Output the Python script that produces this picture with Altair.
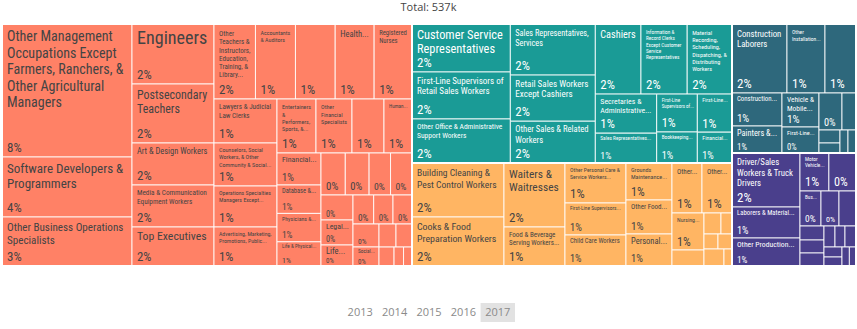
import altair as alt
import pandas as pd

TITLE = "Total: 537k"
YEARS = ["2013", "2014", "2015", "2016", "2017"]
ACTIVE_YEAR = "2017"

GROUPS = [
    "Management, Business, Science, & Arts",
    "Sales & Office",
    "Service",
    "Natural Resources, Construction, & Maintenance",
    "Production, Transportation, & Material Moving",
]
GROUP_COLORS = ["#FF8166", "#1A9B96", "#FFB563", "#2E687C", "#4A3F8C"]
TEXT_COLORS = ["#444444", "#FFFFFF", "#444444", "#FFFFFF", "#FFFFFF"]

MGMT_LABELS = [
    "Other Management\nOccupations Except\nFarmers, Ranchers, &\nOther Agricultural\nManagers",
    "Software Developers &\nProgrammers",
    "Other Business Operations\nSpecialists",
    "Engineers",
    "Postsecondary\nTeachers",
    "Art & Design Workers",
    "Media & Communication\nEquipment Workers",
    "Top Executives",
    "Other\nTeachers &\nInstructors,\nEducation,\nTraining, &\nLibrary...",
    "Accountants\n& Auditors",
    "",
    "Health...",
    "Registered\nNurses",
    "Lawyers & Judicial\nLaw Clerks",
    "Counselors, Social\nWorkers, & Other\nCommunity & Social...",
    "Operations Specialties\nManagers Except...",
    "Advertising, Marketing,\nPromotions, Public...",
    "Entertainers\n&\nPerformers,\nSports, &...",
    "Other\nFinancial\nSpecialists",
    "",
    "Human...",
    "Financial...",
    "Database &...",
    "Physicians &...",
    "Life & Physical...",
    "", "", "", "",
    "", "Legal...", "Life...",
    "", "", "",
    "", "Social...",
    "", "",
    "", "", "",
]
MGMT_VALUES = [
    17290, 7800, 6370,
    4920, 4838, 3444, 3444, 3198,
    3110, 3000, 2980, 2920, 2840,
    2772, 2709, 2583, 2457,
    2106, 1944, 1728, 1512,
    1408, 1250, 1250, 1064,
    1020, 1000, 901, 901,
    800, 800, 672,
    600, 560, 551,
    598, 494,
    391, 368,
    285, 180, 160,
]

SALES_LABELS = [
    "Customer Service\nRepresentatives",
    "First-Line Supervisors of\nRetail Sales Workers",
    "Other Office & Administrative\nSupport Workers",
    "Sales Representatives,\nServices",
    "Retail Sales Workers\nExcept Cashiers",
    "Other Sales & Related\nWorkers",
    "Cashiers",
    "Information &\nRecord Clerks\nExcept Customer\nService\nRepresentatives",
    "Material\nRecording,\nScheduling,\nDispatching, &\nDistributing\nWorkers",
    "Secretaries &\nAdministrative...",
    "Sales Representatives...",
    "First-Line\nSupervisors of...",
    "Bookkeeping...",
    "First-Line...",
    "Financial...",
]
SALES_VALUES = [4720, 4620, 4330, 4340, 3920, 3551, 3200, 3240, 3140,
                2400, 1830, 1540, 1260, 1320, 1069]

SERVICE_LABELS = [
    "Building Cleaning &\nPest Control Workers",
    "Cooks & Food\nPreparation Workers",
    "Waiters &\nWaitresses",
    "Food & Beverage\nServing Workers...",
    "Other Personal Care &\nService Workers...",
    "First-Line Supervisors...",
    "Child Care Workers",
    "Grounds\nMaintenance...",
    "Other Food...",
    "Personal...",
    "Other...",
    "Other...",
    "Nursing...",
    "", "", "", "", "", "", "",
]
SERVICE_VALUES = [4968, 4508, 3904, 2379, 2440, 1952, 1891, 1702, 1564, 1472,
                  1500, 1500, 1184, 512, 357, 231, 210, 210, 340, 136]

CONSTR_LABELS = [
    "Construction\nLaborers",
    "Other\nInstallation...",
    "",
    "Construction...",
    "Painters &...",
    "Vehicle &\nMobile...",
    "First-Line...",
    "", "", "", "", "", "",
]
CONSTR_VALUES = [3795, 2622, 2139, 1650, 1350, 1258, 962, 851, 518, 273, 210, 184, 184]

PROD_LABELS = [
    "Driver/Sales\nWorkers & Truck\nDrivers",
    "Laborers & Material...",
    "Other Production...",
    "Motor\nVehicle...",
    "",
    "Bus...",
    "", "", "", "", "", "", "", "", "", "", "", "",
]
PROD_VALUES = [3672, 2108, 1904, 1098, 1030, 735, 630, 595, 336, 312, 312,
               231, 210, 231, 180, 162, 140, 126]

ALL_LABELS = [MGMT_LABELS, SALES_LABELS, SERVICE_LABELS, CONSTR_LABELS, PROD_LABELS]
ALL_VALUES = [MGMT_VALUES, SALES_VALUES, SERVICE_VALUES, CONSTR_VALUES, PROD_VALUES]

W_CHART, H_CHART = 857, 329
BOX = (2, 24, 856, 266)  # treemap area in the page
PHI = (1 + 5 ** 0.5) / 2
FONT = "Roboto Condensed"
LINE = 1.18  # line height as a multiple of font size

# Roboto advance widths (per 1000 em); the condensed cut is ~0.9x
CW = {' ': 248, 'a': 544, 'b': 560, 'c': 523, 'd': 562, 'e': 529, 'f': 347, 'g': 560,
      'h': 551, 'i': 243, 'j': 239, 'k': 507, 'l': 243, 'm': 876, 'n': 552, 'o': 570,
      'p': 560, 'q': 567, 'r': 338, 's': 516, 't': 327, 'u': 551, 'v': 484, 'w': 751,
      'x': 496, 'y': 473, 'z': 496, 'A': 652, 'B': 623, 'C': 651, 'D': 656, 'E': 568,
      'F': 553, 'G': 681, 'H': 713, 'I': 272, 'J': 552, 'K': 627, 'L': 538, 'M': 873,
      'N': 713, 'O': 688, 'P': 631, 'Q': 688, 'R': 616, 'S': 593, 'T': 597, 'U': 649,
      'V': 636, 'W': 887, 'X': 627, 'Y': 601, 'Z': 599, '&': 621, ',': 196, '.': 263,
      '-': 276, '/': 412, '%': 733}


def em(s):
    return sum(CW.get(c, 562) for c in s) / 1000 * 0.92


def squarify(values, x0, y0, x1, y1, ratio=PHI):
    """Port of d3.treemapSquarify."""
    n = len(values)
    out = [None] * n
    value = float(sum(values))
    i0 = i1 = 0
    while i0 < n:
        dx, dy = x1 - x0, y1 - y0
        sum_v = values[i1]
        i1 += 1
        while not sum_v and i1 < n:
            sum_v = values[i1]
            i1 += 1
        min_v = max_v = sum_v
        alpha = max(dy / dx, dx / dy) / (value * ratio)
        beta = sum_v * sum_v * alpha
        min_ratio = max(max_v / beta, beta / min_v)
        while i1 < n:
            v = values[i1]
            sum_v += v
            min_v = min(min_v, v)
            max_v = max(max_v, v)
            beta = sum_v * sum_v * alpha
            new_ratio = max(max_v / beta, beta / min_v)
            if new_ratio > min_ratio:
                sum_v -= v
                break
            min_ratio = new_ratio
            i1 += 1
        if dx < dy:
            ny = y0 + dy * sum_v / value
            k = dx / sum_v
            cx = x0
            for i in range(i0, i1):
                nx = cx + values[i] * k
                out[i] = (cx, y0, nx, ny)
                cx = nx
            y0 = ny
        else:
            nx = x0 + dx * sum_v / value
            k = dy / sum_v
            cy = y0
            for i in range(i0, i1):
                ny2 = cy + values[i] * k
                out[i] = (x0, cy, nx, ny2)
                cy = ny2
            x0 = nx
        value -= sum_v
        i0 = i1
    return out


group_totals = [sum(v) for v in ALL_VALUES]
TOTAL = float(sum(group_totals))
group_rects = squarify(group_totals, *BOX)

leaf_rows, line_rows, group_rows = [], [], []
for gi, g in enumerate(GROUPS):
    gx0, gy0, gx1, gy1 = group_rects[gi]
    group_rows.append(dict(group=g, x0=gx0, y0=gy0, x1=gx1, y1=gy1))
    rects = squarify(ALL_VALUES[gi], gx0, gy0, gx1, gy1)
    for lab, v, (a, b, c, d) in zip(ALL_LABELS[gi], ALL_VALUES[gi], rects):
        w, h = c - a, d - b
        pct = int(v / TOTAL * 100 + 0.5)
        pad_t = min(6.0, h * 0.1)
        pad_b = min(5.0, h * 0.12)
        ss = min(13.0, max(7.0, min(w * 0.45, h * 0.33)))
        show_share = w >= 17.5 and h >= 18
        leaf_rows.append(dict(group=g, value=v, x0=a, y0=b, x1=c, y1=d, tx=a + 5,
                              sy=d - pad_b, share=f"{pct}%", ss=ss, show=show_share,
                              tcolor=TEXT_COLORS[gi]))
        if lab:
            lines = lab.split("\n")
            nl = len(lines)
            sw = (w - 9) / max(em(l) for l in lines)
            share_block = (0.72 * ss + pad_b + 1) if show_share else 2
            avail = h - pad_t - 0.85 * share_block
            sh = avail / (nl * LINE)
            ns = max(5.0, min(sw, sh, 26.0))
            if lab.endswith("..."):
                ns = min(ns, 8.5)
            for li, line in enumerate(lines):
                line_rows.append(dict(text=line, tx=a + 5, ty=b + pad_t + li * ns * LINE,
                                      ns=ns, tcolor=TEXT_COLORS[gi]))

leaves = pd.DataFrame(leaf_rows)
groups_df = pd.DataFrame(group_rows)
lines_df = pd.DataFrame(line_rows)
shares_df = leaves[leaves["show"]]

XS = alt.Scale(domain=[0, W_CHART], nice=False, zero=False)
YS = alt.Scale(domain=[0, H_CHART], nice=False, zero=False, reverse=True)

cells = alt.Chart(leaves).mark_rect(stroke="white", strokeWidth=1, strokeOpacity=0.85).encode(
    x=alt.X("x0:Q", scale=XS, axis=None), x2="x1:Q",
    y=alt.Y("y0:Q", scale=YS, axis=None), y2="y1:Q",
    color=alt.Color("group:N", scale=alt.Scale(domain=GROUPS, range=GROUP_COLORS), legend=None),
)

outlines = alt.Chart(groups_df).mark_rect(fillOpacity=0, stroke="white", strokeWidth=2).encode(
    x=alt.X("x0:Q", scale=XS, axis=None), x2="x1:Q",
    y=alt.Y("y0:Q", scale=YS, axis=None), y2="y1:Q",
)

names = alt.Chart(lines_df).mark_text(align="left", baseline="top", font=FONT).encode(
    x=alt.X("tx:Q", scale=XS, axis=None),
    y=alt.Y("ty:Q", scale=YS, axis=None),
    text="text:N",
    size=alt.Size("ns:Q", scale=None),
    color=alt.Color("tcolor:N", scale=None),
)

shares = alt.Chart(shares_df).mark_text(align="left", baseline="alphabetic", font=FONT).encode(
    x=alt.X("tx:Q", scale=XS, axis=None),
    y=alt.Y("sy:Q", scale=YS, axis=None),
    text="share:N",
    size=alt.Size("ss:Q", scale=None),
    color=alt.Color("tcolor:N", scale=None),
)

title = alt.Chart(pd.DataFrame({"t": [TITLE]})).mark_text(
    font="Open Sans", fontSize=11, color="#444444", baseline="middle"
).encode(text="t:N", x=alt.value(W_CHART / 2), y=alt.value(8))

years_df = pd.DataFrame({"year": YEARS, "active": [y == ACTIVE_YEAR for y in YEARS]})
YX = alt.X("year:O", scale=alt.Scale(type="band", domain=YEARS, range=[343, 515],
                                      paddingInner=0, paddingOuter=0), axis=None)
year_box = alt.Chart(years_df).transform_filter(alt.datum.active).mark_rect(color="#E2E2E2").encode(
    x=YX, y=alt.value(303), y2=alt.value(322)
)
year_txt = alt.Chart(years_df).mark_text(
    font="Open Sans", fontSize=11, color="#8A8A8A", baseline="middle"
).encode(x=YX, y=alt.value(312.5), text="year:N")

treemap = alt.layer(cells, outlines, names, shares, title)
buttons = alt.layer(year_box, year_txt)

chart = alt.layer(treemap, buttons).resolve_scale(x="independent").properties(
    width=W_CHART, height=H_CHART, padding=0,
    autosize=alt.AutoSizeParams(type="none"),
).configure_view(stroke=None)

chart.save("out.html", embed_options={"renderer": "svg", "actions": False})
